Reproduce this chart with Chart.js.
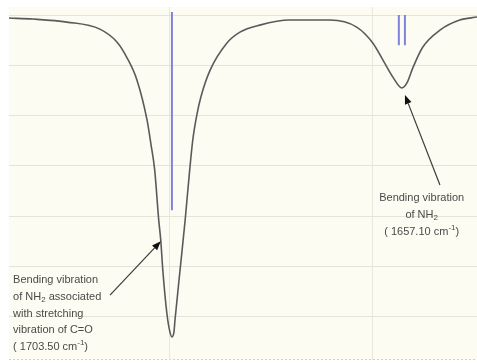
<!DOCTYPE html>
<html>
<head>
<meta charset="utf-8">
<script src="https://cdn.jsdelivr.net/npm/chart.js@4.4.1/dist/chart.umd.min.js"></script>
<style>
  html, body { margin: 0; padding: 0; background: #ffffff; }
  #wrap { width: 477px; height: 363px; }
</style>
</head>
<body>
<div id="wrap"><canvas id="irChart" width="477" height="363"></canvas></div>
<script>
// IR spectrum (wavenumber in cm-1, transmittance arbitrary units)
const wavenumbers = [1735.7, 1731.0, 1724.3, 1717.8, 1714.4, 1712.5, 1710.5, 1708.5, 1707.7, 1707.0,
    1706.2, 1705.8, 1705.4, 1704.6, 1704.0, 1703.6, 1703.2, 1703.0, 1702.0, 1701.0,
    1700.1, 1699.5, 1698.7, 1697.9, 1696.1, 1692.8, 1690.2, 1686.3, 1680.4, 1672.5,
    1667.2, 1664.0, 1662.0, 1660.1, 1658.3, 1657.3, 1656.1, 1654.2, 1650.8, 1646.9, 1643.5];
const transmittance = [69.4, 69.2, 68.6, 67.2, 64.6, 61.6, 57.1, 49.1, 44.1, 39.2,
    29.2, 25.2, 19.3, 10.7, 7.0, 6.0, 7.0, 9.3, 19.3, 29.2,
    39.2, 45.1, 50.1, 53.7, 59.0, 64.4, 66.6, 68.0, 69.0, 69.0,
    67.6, 64.4, 61.0, 57.7, 55.5, 56.5, 59.6, 63.6, 67.0, 69.0, 69.6];

// calculated band positions (blue sticks)
const stickPositions = [1703.6, 1658.9, 1657.7];
const stickTops = [70.6, 70.0, 70.0];
const stickBottoms = [31.2, 64.0, 64.0];

// grid values
const xTicks = [1704, 1664];
const yTicks = [10, 20, 30, 40, 50, 60, 70];

// annotation labels: arrow tip / tail in data units
const labels = [
    {
        tip: [1705.8, 25.0], tail: [1715.8, 14.3],
        anchor: [1734.9, 17.3], align: 'left',
        lines: [
            [['Bending vibration']],
            [['of NH'], ['2', 'sub'], [' associated']],
            [['with stretching']],
            [['vibration of C=O']],
            [['( 1703.50 cm'], ['-1', 'sup'], [')']]
        ]
    },
    {
        tip: [1657.7, 54.1], tail: [1650.8, 36.2],
        anchor: [1654.4, 33.6], align: 'center',
        lines: [
            [['Bending vibration']],
            [['of NH'], ['2', 'sub']],
            [['( 1657.10 cm'], ['-1', 'sup'], [')']]
        ]
    }
];

const curveData = wavenumbers.map((w, i) => ({ x: w, y: transmittance[i] }));
const stickSets = stickPositions.map((w, i) => ({
    data: [{ x: w, y: stickTops[i] }, { x: w, y: stickBottoms[i] }],
    borderColor: '#7f83dc',
    borderWidth: 2,
    pointRadius: 0,
    tension: 0
}));

// fondo marfil del area de trazado y borde inferior punteado
const plotBackground = {
    id: 'plotBackground',
    beforeDraw(chart) {
        const { ctx, chartArea } = chart;
        ctx.save();
        ctx.fillStyle = '#fcfcf2';
        ctx.fillRect(chartArea.left, chartArea.top, chartArea.right - chartArea.left, chartArea.bottom - chartArea.top);
        ctx.strokeStyle = '#d2d2c6';
        ctx.lineWidth = 1;
        ctx.setLineDash([2, 2]);
        ctx.beginPath();
        ctx.moveTo(chartArea.left, chartArea.bottom - 0.5);
        ctx.lineTo(chartArea.right, chartArea.bottom - 0.5);
        ctx.stroke();
        ctx.restore();
    }
};

function drawRichLine(ctx, parts, x, y, align) {
    const base = '11px "Liberation Sans", Arial, sans-serif';
    const small = '8px "Liberation Sans", Arial, sans-serif';
    let total = 0;
    parts.forEach(p => {
        ctx.font = p[1] ? small : base;
        total += ctx.measureText(p[0]).width;
    });
    let cx = align === 'center' ? x - total / 2 : x;
    parts.forEach(p => {
        ctx.font = p[1] ? small : base;
        let dy = 0;
        if (p[1] === 'sub') dy = 3;
        if (p[1] === 'sup') dy = -4;
        ctx.fillText(p[0], cx, y + dy);
        cx += ctx.measureText(p[0]).width;
    });
}

const annotations = {
    id: 'annotations',
    afterDatasetsDraw(chart) {
        const { ctx, scales } = chart;
        ctx.save();
        labels.forEach(lab => {
            const tx = scales.x.getPixelForValue(lab.tip[0]);
            const ty = scales.y.getPixelForValue(lab.tip[1]);
            const sx = scales.x.getPixelForValue(lab.tail[0]);
            const sy = scales.y.getPixelForValue(lab.tail[1]);
            const ang = Math.atan2(ty - sy, tx - sx);
            const headLen = 9, headW = 3.5;
            const bx = tx - headLen * Math.cos(ang);
            const by = ty - headLen * Math.sin(ang);
            ctx.strokeStyle = '#3a3a3a';
            ctx.lineWidth = 1.2;
            ctx.beginPath();
            ctx.moveTo(sx, sy);
            ctx.lineTo(bx, by);
            ctx.stroke();
            ctx.fillStyle = '#111111';
            ctx.beginPath();
            ctx.moveTo(tx, ty);
            ctx.lineTo(bx + headW * Math.sin(ang), by - headW * Math.cos(ang));
            ctx.lineTo(bx - headW * Math.sin(ang), by + headW * Math.cos(ang));
            ctx.closePath();
            ctx.fill();

            const ax = scales.x.getPixelForValue(lab.anchor[0]);
            const ay = scales.y.getPixelForValue(lab.anchor[1]);
            ctx.fillStyle = '#4a4a4a';
            ctx.textBaseline = 'middle';
            ctx.textAlign = 'left';
            lab.lines.forEach((parts, i) => {
                drawRichLine(ctx, parts, ax, ay + i * 16.8, lab.align);
            });
        });
        ctx.restore();
    }
};

const ctx = document.getElementById('irChart').getContext('2d');
const irChart = new Chart(ctx, {
    type: 'line',
    data: {
        datasets: [
            {
                data: curveData,
                borderColor: '#5a5a5a',
                borderWidth: 1.6,
                pointRadius: 0,
                cubicInterpolationMode: 'monotone'
            },
            ...stickSets
        ]
    },
    options: {
        responsive: false,
        animation: false,
        layout: { padding: { left: 9, top: 7, right: 0, bottom: 3 } },
        plugins: {
            legend: { display: false },
            tooltip: { enabled: false }
        },
        scales: {
            x: {
                type: 'linear',
                reverse: true,
                min: 1643.5,
                max: 1735.7,
                afterBuildTicks: scale => { scale.ticks = xTicks.map(v => ({ value: v })); },
                ticks: { display: false },
                grid: { color: '#e8e8dc', drawTicks: false },
                border: { display: false }
            },
            y: {
                min: 1.4,
                max: 71.6,
                afterBuildTicks: scale => { scale.ticks = yTicks.map(v => ({ value: v })); },
                ticks: { display: false },
                grid: { color: '#e4e4d8', drawTicks: false },
                border: { display: false }
            }
        }
    },
    plugins: [plotBackground, annotations]
});
</script>
</body>
</html>
